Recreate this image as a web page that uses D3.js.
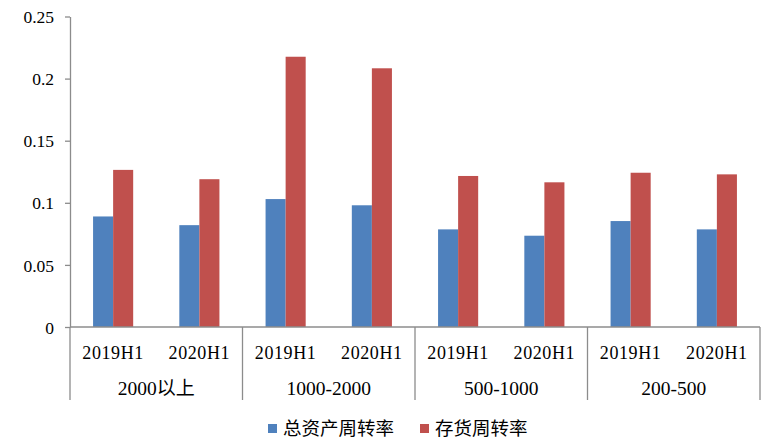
<!DOCTYPE html>
<html><head><meta charset="utf-8">
<script src="https://cdn.jsdelivr.net/npm/d3@7/dist/d3.min.js"></script>
<style>body{margin:0;background:#fff}svg{display:block}</style>
</head><body><svg id="c" width="771" height="444"></svg>
<script>
const groups = ["2000以上", "1000-2000", "500-1000", "200-500"];
const periods = ["2019H1", "2020H1"];
const seriesNames = ["总资产周转率", "存货周转率"];
const totalAssetTurnover = [0.089, 0.082, 0.103, 0.098, 0.0786, 0.0735, 0.0853, 0.0786];
const inventoryTurnover = [0.1265, 0.119, 0.2176, 0.2083, 0.1216, 0.1165, 0.1242, 0.1229];
const yTicks = [0, 0.05, 0.1, 0.15, 0.2, 0.25];
const yTickLabels = ["0", "0.05", "0.1", "0.15", "0.2", "0.25"];
const colors = ["#4F81BD", "#C0504D"];

(function () {
const cats = [];
groups.forEach(g => periods.forEach(p => cats.push(g + "|" + p)));
const values = [totalAssetTurnover, inventoryTurnover];

const svg = d3.select("#c");
const mLeft = 70, mRight = 760, mTop = 16.5, mBottom = 327;
const serif = "'Liberation Serif','Times New Roman',serif";
const cjk = "'Noto Sans CJK SC','Noto Sans',sans-serif";
const axisColor = "#8c8c8c";

const x = d3.scaleBand().domain(cats).range([mLeft, mRight]).paddingInner(0.535).paddingOuter(0.2675);
const xs = d3.scaleBand().domain([0, 1]).range([0, x.bandwidth()]);
const y = d3.scaleLinear().domain([0, 0.25]).range([mBottom, mTop]);

values.forEach((vals, si) => {
  svg.append("g").selectAll("rect").data(vals).join("rect")
    .attr("x", (d, i) => x(cats[i]) + xs(si))
    .attr("width", xs.bandwidth())
    .attr("y", d => y(d))
    .attr("height", d => y(0) - y(d))
    .attr("fill", colors[si]);
});

const ya = svg.append("g").attr("transform", `translate(${mLeft},0)`)
  .call(d3.axisLeft(y).tickValues(yTicks).tickFormat((d, i) => yTickLabels[i]).tickSize(5).tickSizeOuter(0));
ya.select(".domain").attr("stroke", axisColor).attr("stroke-width", 1.3);
ya.selectAll(".tick line").attr("stroke", axisColor).attr("stroke-width", 1.3);
ya.selectAll(".tick text").attr("font-family", serif).attr("font-size", 17.5).attr("fill", "#000").attr("x", -16).attr("dy", "0.35em");

svg.append("line").attr("x1", mLeft).attr("x2", mRight).attr("y1", mBottom).attr("y2", mBottom)
  .attr("stroke", axisColor).attr("stroke-width", 1.3);

const groupW = (mRight - mLeft) / groups.length;
const sepX = d3.range(groups.length + 1).map(i => mLeft + i * groupW);
svg.append("g").selectAll("line").data(sepX).join("line")
  .attr("x1", d => d).attr("x2", d => d).attr("y1", mBottom).attr("y2", 400)
  .attr("stroke", axisColor).attr("stroke-width", 1.3);

svg.append("g").selectAll("text").data(cats).join("text")
  .attr("x", d => x(d) + x.bandwidth() / 2)
  .attr("y", 358.5)
  .attr("text-anchor", "middle")
  .attr("font-family", serif).attr("font-size", 18).attr("letter-spacing", "0.6px")
  .text(d => d.split("|")[1]);

svg.append("g").selectAll("text").data(groups).join("text")
  .attr("x", (d, i) => mLeft + (i + 0.5) * groupW)
  .attr("y", 395)
  .attr("text-anchor", "middle")
  .attr("font-family", serif).attr("font-size", 19.5)
  .each(function(d) {
    const t = d3.select(this);
    const m = d.match(/^([0-9\-]+)(.*)$/);
    t.append("tspan").text(m[1]);
    if (m[2]) t.append("tspan").attr("font-family", cjk).attr("font-size", 19).text(m[2]);
  });

const legendX = [268, 420];
seriesNames.forEach((n, i) => {
  svg.append("rect").attr("x", legendX[i]).attr("y", 424).attr("width", 9).attr("height", 9).attr("fill", colors[i]);
  svg.append("text").attr("x", legendX[i] + 15).attr("y", 435)
    .attr("font-family", cjk).attr("font-size", 18.5).attr("fill", "#000").text(n);
});
})();
</script></body></html>
